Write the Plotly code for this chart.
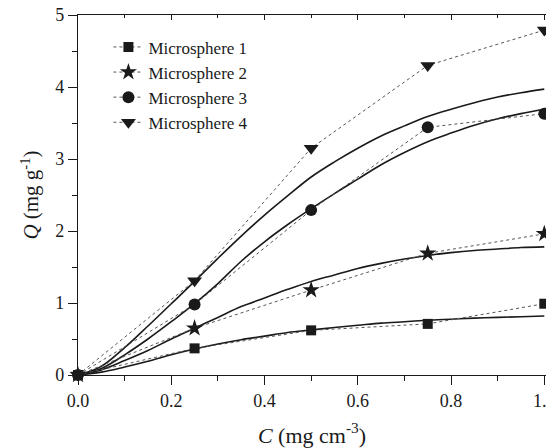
import plotly.graph_objects as go

# Experimental data
conc = [0.0, 0.25, 0.5, 0.75, 1.0]
q_m1 = [0.0, 0.37, 0.62, 0.71, 0.99]
q_m2 = [0.0, 0.65, 1.18, 1.69, 1.96]
q_m3 = [0.0, 0.98, 2.29, 3.44, 3.63]
q_m4 = [0.0, 1.31, 3.15, 4.30, 4.79]

# Fitted curves
fit_c = [0.0, 0.05, 0.1, 0.15, 0.2, 0.25, 0.3, 0.35, 0.4, 0.45, 0.5,
         0.55, 0.6, 0.65, 0.7, 0.75, 0.8, 0.85, 0.9, 0.95, 1.0]
fit_m1 = [0.0, 0.04, 0.11, 0.19, 0.28, 0.36, 0.43, 0.49, 0.54, 0.59, 0.625,
          0.66, 0.69, 0.72, 0.74, 0.76, 0.775, 0.79, 0.80, 0.81, 0.82]
fit_m2 = [0.0, 0.07, 0.20, 0.34, 0.50, 0.65, 0.80, 0.95, 1.07, 1.19, 1.30,
          1.39, 1.48, 1.55, 1.61, 1.66, 1.70, 1.73, 1.75, 1.77, 1.78]
fit_m3 = [0.0, 0.09, 0.28, 0.50, 0.74, 0.99, 1.27, 1.58, 1.85, 2.09, 2.31,
          2.52, 2.72, 2.92, 3.09, 3.24, 3.36, 3.47, 3.56, 3.63, 3.69]
fit_m4 = [0.0, 0.12, 0.38, 0.68, 0.99, 1.30, 1.62, 1.93, 2.22, 2.49, 2.75,
          2.96, 3.15, 3.32, 3.46, 3.59, 3.69, 3.78, 3.86, 3.92, 3.97]

names = ["Microsphere 1", "Microsphere 2", "Microsphere 3", "Microsphere 4"]
symbols = ["square", "star", "circle", "triangle-down"]
sizes = [10, 13, 12, 13]
data = [q_m1, q_m2, q_m3, q_m4]
fits = [fit_m1, fit_m2, fit_m3, fit_m4]

INK = "#1a1a1a"
FONT = "Liberation Serif"

fig = go.Figure()
for f in fits:
    fig.add_trace(go.Scatter(x=fit_c, y=f, mode="lines", showlegend=False,
                             line=dict(color=INK, width=1.6, shape="spline"),
                             hoverinfo="skip"))
for n, s, sz, d in zip(names, symbols, sizes, data):
    fig.add_trace(go.Scatter(x=conc, y=d, mode="lines+markers", name=n,
                             cliponaxis=False,
                             line=dict(color="#555555", width=1, dash="dot"),
                             marker=dict(symbol=s, size=sz, color=INK,
                                         line=dict(width=0))))

xr = [0, (546 - 78) / 466.3]
fig.update_layout(
    width=546, height=448,
    margin=dict(l=78, r=0, t=15, b=73, autoexpand=False),
    paper_bgcolor="white", plot_bgcolor="white",
    font=dict(family=FONT, size=18, color=INK),
    showlegend=True,
    legend=dict(x=0.065, y=0.96, xanchor="left", yanchor="top",
                bgcolor="rgba(0,0,0,0)", font=dict(size=17),
                itemsizing="trace", tracegroupgap=0),
    xaxis=dict(range=xr, showline=True, linecolor=INK, linewidth=1.2,
               mirror=True, ticks="outside", ticklen=9, tickwidth=1.2,
               tickcolor=INK, dtick=0.2, tickformat=".1f",
               ticklabeloverflow="allow", automargin=False,
               minor=dict(ticks="outside", ticklen=5, dtick=0.1, tickcolor=INK),
               showgrid=False, zeroline=False,
               title=dict(text="<i>C</i> (mg cm<sup>-3</sup>)",
                          font=dict(size=22), standoff=17)),
    xaxis2=dict(range=xr, overlaying="x", side="top", showline=False,
                ticks="inside", ticklen=5, tickwidth=1.2, tickcolor=INK,
                dtick=0.2, showticklabels=False, automargin=False,
                minor=dict(ticks="inside", ticklen=3, dtick=0.1, tickcolor=INK),
                showgrid=False, zeroline=False),
    yaxis=dict(range=[0, 5], showline=True, linecolor=INK, linewidth=1.2,
               ticks="outside", ticklen=9, tickwidth=1.2, tickcolor=INK,
               dtick=1, ticklabeloverflow="allow", automargin=False,
               minor=dict(ticks="outside", ticklen=5, dtick=0.5,
                          tickcolor=INK),
               showgrid=False, zeroline=False,
               title=dict(text="<i>Q</i> (mg g<sup>-1</sup>)",
                          font=dict(size=21), standoff=10)),
)
# dummy trace to activate top axis
fig.add_trace(go.Scatter(x=[None], y=[None], xaxis="x2", showlegend=False,
                         hoverinfo="skip"))

fig.write_html("out.html",
               config={"displayModeBar": False},
               post_script="document.body.style.margin='0';"
                           "document.body.style.overflow='hidden';")
